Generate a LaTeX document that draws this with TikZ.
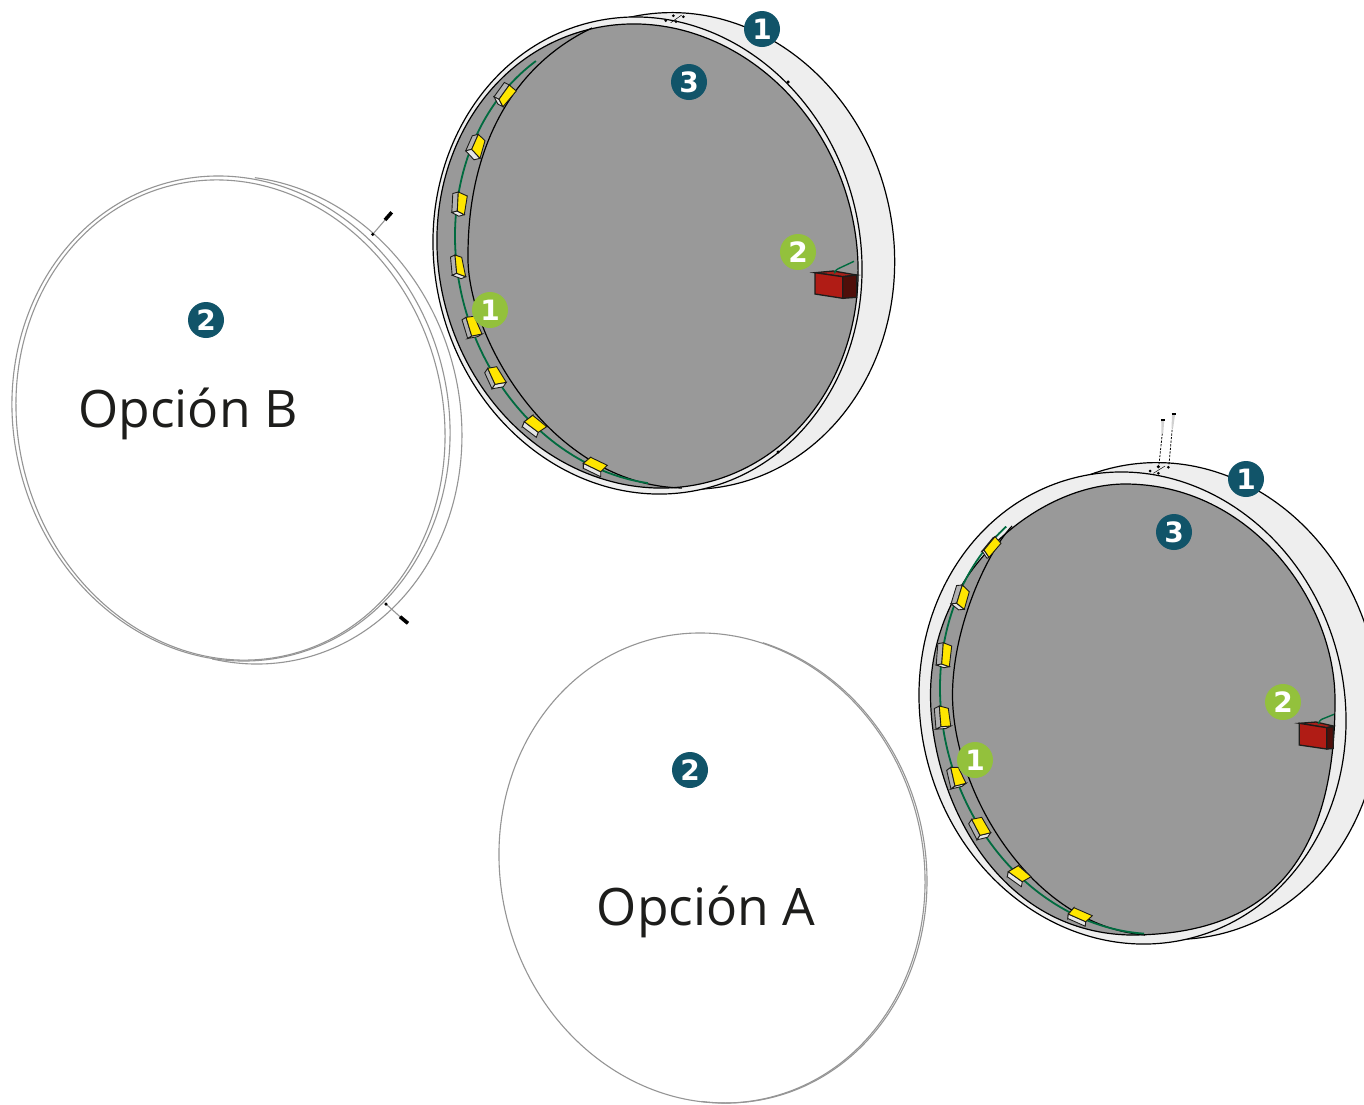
\documentclass[tikz,border=0pt]{standalone}
\usepackage{fontspec}
\setmainfont{Open Sans}
\newfontfamily\numfont{DejaVu Sans}
\usetikzlibrary{calc}
\definecolor{teal}{HTML}{115469}
\definecolor{lime}{HTML}{93C13C}
\definecolor{greydisc}{HTML}{999999}
\definecolor{pale}{HTML}{EEEEEE}
\definecolor{boxyellow}{HTML}{FFE600}
\definecolor{wire}{HTML}{006B3F}
\definecolor{redfront}{HTML}{B01C15}
\definecolor{redside}{HTML}{4F0F0A}
\definecolor{redtop}{HTML}{A8201A}
\definecolor{ink}{HTML}{1D1D1B}
\definecolor{thin}{HTML}{959595}
\tikzset{
  blk/.style={draw=black,line width=1.2pt},
  numdark/.style={circle,fill=teal,text=white,minimum size=36pt,inner sep=0pt,font=\numfont\bfseries\fontsize{28}{28}\selectfont},
  numlime/.style={circle,fill=lime,text=white,minimum size=36pt,inner sep=0pt,font=\numfont\bfseries\fontsize{28}{28}\selectfont},
  bigtext/.style={text=ink,inner sep=0pt,font=\fontsize{51.6}{60}\selectfont},
  thinring/.style={draw=thin,line width=1.1pt},
  wireline/.style={draw=wire,line width=1.8pt},
  boxedge/.style={draw=ink,line width=0.9pt},
  dot/.style={circle,fill=black,inner sep=0pt,minimum size=3.5pt},
}
% tilted ellipse: style, cx, cy, minor, major, tilt
\newcommand\tilted[6]{\path[#1,rotate around={#6:(#2,#3)}] (#2,#3) ellipse [x radius=#4pt,y radius=#5pt];}
% partial tilted ellipse: style, cx, cy, minor, major, start, end, tilt
\newcommand\tiltarc[8]{\begin{scope}[shift={(#2,#3)},rotate=#8,x=1pt,y=1pt]
  \path[#1] (#6:#4pt and #5pt) arc[start angle=#6,end angle=#7,x radius=#4pt,y radius=#5pt];
\end{scope}}
% LED box: four corners of the yellow face, depth vector
\newcommand\ledbox[5]{%
  \draw[boxedge,fill=black!30] #1 -- ($#1+#5$) -- ($#4+#5$) -- #4 -- cycle;
  \draw[boxedge,fill=black!10] #4 -- ($#4+#5$) -- ($#3+#5$) -- #3 -- cycle;
  \draw[boxedge,fill=boxyellow] #1 -- #2 -- #3 -- #4 -- cycle;}
\begin{document}
\begin{tikzpicture}[x=1pt,y=-1pt]
\clip (0,0) rectangle (1364,1104);
\fill[white] (0,0) rectangle (1364,1104);

% ---------- Option B cover
\tilted{thinring}{230.5}{420}{212.4}{241.9}{15}
\tilted{thinring}{231}{418.5}{217.1}{244.2}{15}
\tiltarc{thinring}{243}{420}{216.9}{245.8}{-115}{70}{15}
\coordinate (sb1) at (372.7,234.3);
\coordinate (sb2) at (385,220);
\coordinate (sb3) at (391.7,212.3);
\coordinate (sc1) at (386,604);
\coordinate (sc2) at (400,616.7);
\coordinate (sc3) at (408,623.3);
\draw[draw=thin,line width=1.1pt] (sb1) -- (sb2);
\draw[line width=3.6pt] (sb2) -- (sb3);
\node[dot] at (sb1) {};
\draw[draw=thin,line width=1.1pt] (sc1) -- (sc2);
\draw[line width=3.6pt] (sc2) -- (sc3);
\node[dot] at (sc1) {};

% ---------- Option A cover
\tilted{thinring}{712}{868}{211.2}{236.6}{15}
\tiltarc{thinring}{714}{868}{211.2}{236.6}{-110}{60}{15}

% ---------- Upper lamp
\tilted{blk,fill=pale}{681}{251}{212.6}{239.3}{11}
\tilted{blk,fill=pale}{647.5}{255.5}{212.8}{240}{14}
\tilted{blk,fill=greydisc}{647.5}{256}{208.2}{234.1}{17}
\draw[blk] (592,28) .. controls (512,66) and (468,148) .. (468,255)
  .. controls (466,335) and (550,485) .. (682,488);
\tiltarc{wireline}{656}{256}{197.9}{231.7}{107}{248}{17}
\ledbox{(509.3,85)}{(516.3,91)}{(503,106.7)}{(499,99.3)}{(-5,-2.5)}
\ledbox{(478.3,134.3)}{(485,140.7)}{(480,158.3)}{(471.7,149.3)}{(-6,1.5)}
\ledbox{(458.3,192)}{(467.3,196)}{(464.3,214.7)}{(457.3,211)}{(-5.5,1.5)}
\ledbox{(455,255)}{(461.7,257.3)}{(465.7,276.7)}{(456.7,273.3)}{(-4.5,2)}
\ledbox{(466,317.3)}{(474.3,316.3)}{(482,334)}{(471.7,336)}{(-4,2.5)}
\ledbox{(487.7,368.3)}{(496.7,366.7)}{(506.3,382.3)}{(495,384.3)}{(-3,4.5)}
\ledbox{(532.7,415.3)}{(546.7,426.7)}{(538.3,432.3)}{(524.3,421.7)}{(-2,5)}
\ledbox{(590.7,457.3)}{(607.3,465.3)}{(600.7,471.7)}{(583.3,463.3)}{(0,5)}
% red box
\draw[draw=ink,line width=1.3pt,fill=redtop] (815,272.7) -- (833.3,271) -- (856.7,275) -- (842.7,276.7) -- cycle;
\draw[draw=ink,line width=1.3pt,fill=redfront] (815,272.7) -- (842.7,276.7) -- (842.7,298.3) -- (815,294) -- cycle;
\draw[draw=ink,line width=1.3pt,fill=redside] (842.7,276.7) -- (856.7,275) -- (856.7,297.3) -- (842.7,298.3) -- cycle;
\draw[wireline,line width=1.4pt] (834.3,273.3) .. controls (835.5,270.5) and (836,269.8) .. (838,268.8) -- (854,261.3);
% top marks
\node[dot,minimum size=3pt] at (673.3,15.7) {};
\node[dot,minimum size=3pt] at (683.3,16.7) {};
\node[dot,minimum size=3pt] at (665.7,20.7) {};
\node[dot,minimum size=3pt] at (676,21.7) {};
\draw[line width=0.5pt] (670.7,22.7) -- (681.7,15);
\node[dot] at (788,82) {};
\node[dot] at (778,452) {};

% ---------- Lower lamp
\tilted{blk,fill=pale}{1166}{701}{212.6}{239.3}{11}
\tilted{blk,fill=pale}{1132.5}{708}{211.9}{237.4}{14}
\draw[blk,fill=greydisc] (930.5,695) .. controls (930.5,795) and (995,932) .. (1130,935)
  .. controls (1255,935) and (1335,875) .. (1335,700)
  .. controls (1335,600) and (1250,484) .. (1125,484)
  .. controls (1040,484) and (930.5,570) .. (930.5,695) -- cycle;
\draw[blk] (1012,526) .. controls (985,555) and (952.5,630) .. (952.5,695)
  .. controls (952.5,790) and (1030,925) .. (1145,935);
\tiltarc{wireline}{1138}{708}{194.9}{228.7}{112}{252}{17}
\ledbox{(995,536.7)}{(1001,543.3)}{(989,557.3)}{(984,550)}{(-2,1)}
\ledbox{(962.3,585)}{(969.3,591.7)}{(964.3,609.3)}{(956.7,603.3)}{(-5.7,0.5)}
\ledbox{(943.3,642.7)}{(951.7,646)}{(949.3,666.7)}{(941.7,664)}{(-5.5,1)}
\ledbox{(939.3,706)}{(948.3,708.3)}{(950.7,726)}{(941,726.7)}{(-5,2.5)}
\ledbox{(950.7,767.3)}{(958.3,767.3)}{(966,783.3)}{(955,786)}{(-4,3)}
\ledbox{(971.7,819.3)}{(981.7,817.3)}{(990.7,832.7)}{(980,835.3)}{(-3,4.5)}
\ledbox{(1018.3,865.7)}{(1031,876.7)}{(1022.3,881.7)}{(1008.3,871.7)}{(-1,5)}
\ledbox{(1074,907.7)}{(1092.3,915.7)}{(1085.7,921.7)}{(1068.3,914)}{(-0.5,4.5)}
% red box
\draw[draw=ink,line width=1.3pt,fill=redtop] (1299.3,723.3) -- (1316,722) -- (1333.3,726) -- (1326.7,727.7) -- cycle;
\draw[draw=ink,line width=1.3pt,fill=redfront] (1299.3,723.3) -- (1326.7,727.7) -- (1326.7,749) -- (1299.3,745) -- cycle;
\draw[draw=ink,line width=1.3pt,fill=redside] (1326.7,727.7) -- (1333.3,726.5) -- (1333.3,748.5) -- (1326.7,749) -- cycle;
\draw[wireline,line width=1.4pt] (1318.3,724) .. controls (1319,721.5) and (1320,720.2) .. (1321.7,719.3) -- (1334,714.3);
% screws of the lower lamp
\coordinate (la) at (1159,464.3);
\coordinate (lb) at (1162.3,433.3);
\coordinate (lc) at (1169,464.3);
\coordinate (ld) at (1172.3,427.7);
\draw[line width=0.8pt,dash pattern=on 2.2pt off 1.4pt] (la) -- (lb);
\draw[line width=0.8pt,dash pattern=on 2.2pt off 1.4pt] (lc) -- (ld);
\fill[black!18] (1161.5,433.3) -- (1163.2,433.3) -- (1164.2,421) -- (1161.2,421) -- cycle;
\fill[black!18] (1171.5,427.7) -- (1173.2,427.7) -- (1175,415) -- (1172,415) -- cycle;
\draw[line width=1.3pt] (1160.8,420) -- (1165,420);
\draw[line width=1.3pt] (1171.5,414) -- (1176,414);
\node[dot] at (1158.3,466.7) {};
\node[dot,minimum size=3pt] at (1168.3,467.3) {};
\node[dot,minimum size=3pt] at (1150,471) {};
\node[dot,minimum size=3pt] at (1158.3,473.3) {};
\draw[line width=0.5pt] (1153.3,473.3) -- (1165,466);

% ---------- Labels
\node[numdark] (a1) at (762,29) {1};
\node[numdark] (a3) at (689,82) {3};
\node[numdark] (a2) at (206,320) {2};
\node[numlime] (g1) at (490,310) {1};
\node[numlime] (g2) at (798,252) {2};
\node[numdark] (b2) at (690,770) {2};
\node[numdark] (b1) at (1246,479) {1};
\node[numdark] (b3) at (1174,532) {3};
\node[numlime] (h1) at (975,760) {1};
\node[numlime] (h2) at (1283,702) {2};
\node[bigtext,anchor=base] (optb) at (188,427) {Opción B};
\node[bigtext,anchor=base] (opta) at (706,925) {Opción A};
\end{tikzpicture}
\end{document}
